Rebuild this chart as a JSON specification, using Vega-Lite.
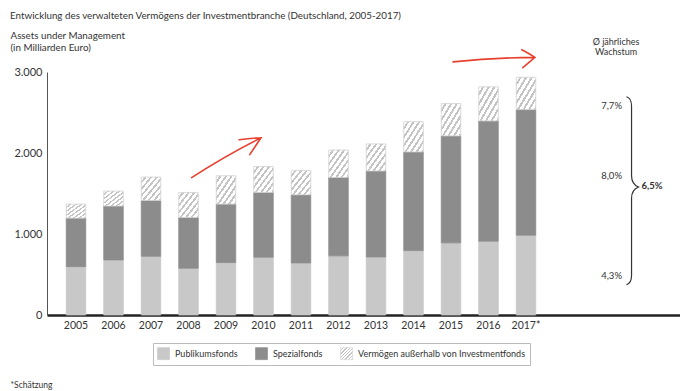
{
  "$schema": "https://vega.github.io/schema/vega-lite/v6.json",
  "width": 633,
  "height": 243,
  "autosize": {"type": "none"},
  "padding": {"left": 47, "top": 72, "right": 0, "bottom": 76},
  "background": "white",
  "config": {"view": {"stroke": null}, "font": "Lato"},
  "title": {
    "text": "Entwicklung des verwalteten Vermögens der Investmentbranche (Deutschland, 2005-2017)",
    "anchor": "start", "frame": "group", "dx": -37, "offset": 2, "baseline": "alphabetic",
    "fontSize": 9.8, "font": "Lato", "fontWeight": "normal", "color": "#333333"
  },
  "datasets": {
    "aum": [
      {"Jahr": "2005", "Kategorie": "Publikumsfonds", "Wert": 597},
      {"Jahr": "2005", "Kategorie": "Spezialfonds", "Wert": 599},
      {"Jahr": "2005", "Kategorie": "Vermögen außerhalb von Investmentfonds", "Wert": 173},
      {"Jahr": "2006", "Kategorie": "Publikumsfonds", "Wert": 680},
      {"Jahr": "2006", "Kategorie": "Spezialfonds", "Wert": 665},
      {"Jahr": "2006", "Kategorie": "Vermögen außerhalb von Investmentfonds", "Wert": 185},
      {"Jahr": "2007", "Kategorie": "Publikumsfonds", "Wert": 726},
      {"Jahr": "2007", "Kategorie": "Spezialfonds", "Wert": 688},
      {"Jahr": "2007", "Kategorie": "Vermögen außerhalb von Investmentfonds", "Wert": 289},
      {"Jahr": "2008", "Kategorie": "Publikumsfonds", "Wert": 578},
      {"Jahr": "2008", "Kategorie": "Spezialfonds", "Wert": 626},
      {"Jahr": "2008", "Kategorie": "Vermögen außerhalb von Investmentfonds", "Wert": 309},
      {"Jahr": "2009", "Kategorie": "Publikumsfonds", "Wert": 647},
      {"Jahr": "2009", "Kategorie": "Spezialfonds", "Wert": 722},
      {"Jahr": "2009", "Kategorie": "Vermögen außerhalb von Investmentfonds", "Wert": 350},
      {"Jahr": "2010", "Kategorie": "Publikumsfonds", "Wert": 714},
      {"Jahr": "2010", "Kategorie": "Spezialfonds", "Wert": 799},
      {"Jahr": "2010", "Kategorie": "Vermögen außerhalb von Investmentfonds", "Wert": 321},
      {"Jahr": "2011", "Kategorie": "Publikumsfonds", "Wert": 643},
      {"Jahr": "2011", "Kategorie": "Spezialfonds", "Wert": 841},
      {"Jahr": "2011", "Kategorie": "Vermögen außerhalb von Investmentfonds", "Wert": 301},
      {"Jahr": "2012", "Kategorie": "Publikumsfonds", "Wert": 730},
      {"Jahr": "2012", "Kategorie": "Spezialfonds", "Wert": 968},
      {"Jahr": "2012", "Kategorie": "Vermögen außerhalb von Investmentfonds", "Wert": 339},
      {"Jahr": "2013", "Kategorie": "Publikumsfonds", "Wert": 717},
      {"Jahr": "2013", "Kategorie": "Spezialfonds", "Wert": 1061},
      {"Jahr": "2013", "Kategorie": "Vermögen außerhalb von Investmentfonds", "Wert": 334},
      {"Jahr": "2014", "Kategorie": "Publikumsfonds", "Wert": 795},
      {"Jahr": "2014", "Kategorie": "Spezialfonds", "Wert": 1218},
      {"Jahr": "2014", "Kategorie": "Vermögen außerhalb von Investmentfonds", "Wert": 374},
      {"Jahr": "2015", "Kategorie": "Publikumsfonds", "Wert": 891},
      {"Jahr": "2015", "Kategorie": "Spezialfonds", "Wert": 1320},
      {"Jahr": "2015", "Kategorie": "Vermögen außerhalb von Investmentfonds", "Wert": 399},
      {"Jahr": "2016", "Kategorie": "Publikumsfonds", "Wert": 912},
      {"Jahr": "2016", "Kategorie": "Spezialfonds", "Wert": 1484},
      {"Jahr": "2016", "Kategorie": "Vermögen außerhalb von Investmentfonds", "Wert": 421},
      {"Jahr": "2017*", "Kategorie": "Publikumsfonds", "Wert": 986},
      {"Jahr": "2017*", "Kategorie": "Spezialfonds", "Wert": 1550},
      {"Jahr": "2017*", "Kategorie": "Vermögen außerhalb von Investmentfonds", "Wert": 399}
    ]
  },
  "encoding": {
    "x": {
      "type": "nominal",
      "scale": {
        "domain": ["2005", "2006", "2007", "2008", "2009", "2010", "2011", "2012", "2013", "2014", "2015", "2016", "2017*", "a1", "a2", "a3"],
        "paddingInner": 0.48, "paddingOuter": 0.68, "align": 0.3775, "round": false
      },
      "axis": {
        "domain": true, "domainColor": "#222222", "domainWidth": 2.5, "ticks": false, "grid": false,
        "labelAngle": 0, "labelFontSize": 10.5, "labelFont": "Lato", "labelColor": "#333333", "labelPadding": 5,
        "labelExpr": "indexof(['a1','a2','a3'], datum.value) >= 0 ? '' : datum.value",
        "title": "*Schätzung", "titleX": -37, "titleY": 72, "titleAlign": "left", "titleAnchor": "start",
        "titleBaseline": "alphabetic", "titleFontSize": 8.5, "titleFontWeight": "normal", "titleFont": "Lato", "titleColor": "#333333"
      }
    },
    "y": {
      "type": "quantitative",
      "scale": {"domain": [0, 3000], "nice": false},
      "axis": {
        "values": [0, 1000, 2000, 3000],
        "domain": true, "domainColor": "#555555", "domainWidth": 1, "ticks": false, "grid": false,
        "labelFontSize": 11, "labelFont": "Lato", "labelColor": "#333333", "labelPadding": 5,
        "labelExpr": "replace(format(datum.value, ','), ',', '.')",
        "title": ["Assets under Management", "(in Milliarden Euro)"],
        "titleAngle": 0, "titleAlign": "left", "titleAnchor": "start", "titleX": -37, "titleY": -33.5,
        "titleBaseline": "alphabetic", "titleLineHeight": 11.5, "titleFontSize": 9.8, "titleFontWeight": "normal",
        "titleFont": "Lato", "titleColor": "#333333"
      }
    }
  },
  "layer": [
    {
      "data": {"name": "aum"},
      "transform": [
        {"stack": "Wert", "groupby": ["Jahr"], "sort": [{"field": "Kategorie", "order": "ascending"}], "as": ["unten", "oben"]}
      ],
      "mark": {"type": "bar", "strokeWidth": 0.8},
      "encoding": {
        "x": {"field": "Jahr", "type": "nominal"},
        "y": {"field": "oben", "type": "quantitative"},
        "y2": {"field": "unten"},
        "color": {
          "field": "Kategorie", "type": "nominal",
          "scale": {
            "domain": ["Publikumsfonds", "Spezialfonds", "Vermögen außerhalb von Investmentfonds"],
            "range": ["#c8c8c8", "#8c8c8c", {"expr": "{gradient: 'linear', x1: 0, y1: 0, x2: 1, y2: 1, stops: [{offset: 0, color: '#ffffff'}, {offset: 0.0857, color: '#ffffff'}, {offset: 0.0857, color: '#c4c4c4'}, {offset: 0.1429, color: '#c4c4c4'}, {offset: 0.1429, color: '#ffffff'}, {offset: 0.2286, color: '#ffffff'}, {offset: 0.2286, color: '#c4c4c4'}, {offset: 0.2857, color: '#c4c4c4'}, {offset: 0.2857, color: '#ffffff'}, {offset: 0.3714, color: '#ffffff'}, {offset: 0.3714, color: '#c4c4c4'}, {offset: 0.4286, color: '#c4c4c4'}, {offset: 0.4286, color: '#ffffff'}, {offset: 0.5143, color: '#ffffff'}, {offset: 0.5143, color: '#c4c4c4'}, {offset: 0.5714, color: '#c4c4c4'}, {offset: 0.5714, color: '#ffffff'}, {offset: 0.6571, color: '#ffffff'}, {offset: 0.6571, color: '#c4c4c4'}, {offset: 0.7143, color: '#c4c4c4'}, {offset: 0.7143, color: '#ffffff'}, {offset: 0.8, color: '#ffffff'}, {offset: 0.8, color: '#c4c4c4'}, {offset: 0.8571, color: '#c4c4c4'}, {offset: 0.8571, color: '#ffffff'}, {offset: 0.9429, color: '#ffffff'}, {offset: 0.9429, color: '#c4c4c4'}, {offset: 1, color: '#c4c4c4'}]}"}]
          },
          "legend": {
            "orient": "none", "legendX": 106, "legendY": 271, "direction": "horizontal", "title": null,
            "strokeColor": "#bbbbbb", "padding": 4, "symbolType": "square", "symbolSize": 144,
            "symbolStrokeColor": "#d2d2d2", "symbolStrokeWidth": 0.6,
            "labelFontSize": 9, "labelFont": "Lato", "labelColor": "#333333", "labelLimit": 300,
            "columnPadding": 16, "labelOffset": 5
          }
        },
        "stroke": {
          "field": "Kategorie", "type": "nominal",
          "scale": {
            "domain": ["Publikumsfonds", "Spezialfonds", "Vermögen außerhalb von Investmentfonds"],
            "range": ["#c8c8c8", "#8c8c8c", "#d2d2d2"]
          },
          "legend": null
        }
      }
    },
    {
      "data": {"values": [{"Text": "Ø jährliches\nWachstum"}]},
      "mark": {"type": "text", "lineBreak": "\n", "lineHeight": 10, "align": "center", "baseline": "middle", "dx": 15, "fontSize": 9, "font": "Lato", "color": "#333333"},
      "encoding": {"x": {"datum": "a2"}, "y": {"datum": 3365}, "text": {"field": "Text"}}
    },
    {
      "data": {"values": [{"Kategorie": "Vermögen außerhalb von Investmentfonds", "Wachstum": "7,7%"}]},
      "mark": {"type": "text", "align": "right", "baseline": "middle", "dx": 21, "fontSize": 9.5, "font": "Lato", "color": "#333333"},
      "encoding": {"x": {"datum": "a2"}, "y": {"datum": 2585}, "text": {"field": "Wachstum"}}
    },
    {
      "data": {"values": [{"Kategorie": "Spezialfonds", "Wachstum": "8,0%"}]},
      "mark": {"type": "text", "align": "right", "baseline": "middle", "dx": 21, "fontSize": 9.5, "font": "Lato", "color": "#333333"},
      "encoding": {"x": {"datum": "a2"}, "y": {"datum": 1711}, "text": {"field": "Wachstum"}}
    },
    {
      "data": {"values": [{"Kategorie": "Publikumsfonds", "Wachstum": "4,3%"}]},
      "mark": {"type": "text", "align": "right", "baseline": "middle", "dx": 21, "fontSize": 9.5, "font": "Lato", "color": "#333333"},
      "encoding": {"x": {"datum": "a2"}, "y": {"datum": 482}, "text": {"field": "Wachstum"}}
    },
    {
      "data": {"values": [{"Kategorie": "Gesamt", "Wachstum": "6,5%"}]},
      "mark": {"type": "text", "align": "left", "baseline": "middle", "dx": 3, "fontSize": 9.5, "font": "Lato", "fontWeight": "bold", "color": "#333333"},
      "encoding": {"x": {"datum": "a3"}, "y": {"datum": 1587}, "text": {"field": "Wachstum"}}
    },
    {
      "data": {"values": [{"Element": "Klammer"}]},
      "mark": {
        "type": "point", "filled": false, "opacity": 1, "color": "#333333", "strokeWidth": 1.2, "size": 35344,
        "shape": "M -0.128 -1 C -0.09 -0.99 -0.074 -0.96 -0.074 -0.9 L -0.074 -0.16 C -0.074 -0.09 -0.05 -0.06 0 -0.04 C -0.05 -0.02 -0.074 0.01 -0.074 0.08 L -0.074 0.9 C -0.074 0.96 -0.09 0.99 -0.128 1"
      },
      "encoding": {"x": {"datum": "a3"}, "y": {"datum": 1534}}
    },
    {
      "data": {"values": [{"Element": "Pfeil 1"}]},
      "mark": {
        "type": "point", "filled": false, "opacity": 1, "color": "#e8402f", "strokeWidth": 1.6, "strokeCap": "round", "size": 6400, "angle": 331,
        "shape": "M -1 0.03 Q 0 -0.04 1 0 M 0.5 -0.22 Q 0.78 -0.12 1 0 L 0.55 0.23"
      },
      "encoding": {"x": {"datum": "2009"}, "y": {"datum": 1948}}
    },
    {
      "data": {"values": [{"Element": "Pfeil 2"}]},
      "mark": {
        "type": "point", "filled": false, "opacity": 1, "color": "#e8402f", "strokeWidth": 1.6, "strokeCap": "round", "size": 6724, "angle": 358,
        "shape": "M -0.866 0.04 Q 0.134 -0.03 1.134 0 M 0.82 -0.2 Q 1.0 -0.1 1.134 0 L 0.83 0.24"
      },
      "encoding": {"x": {"datum": "2016"}, "y": {"datum": 3160}}
    }
  ]
}
